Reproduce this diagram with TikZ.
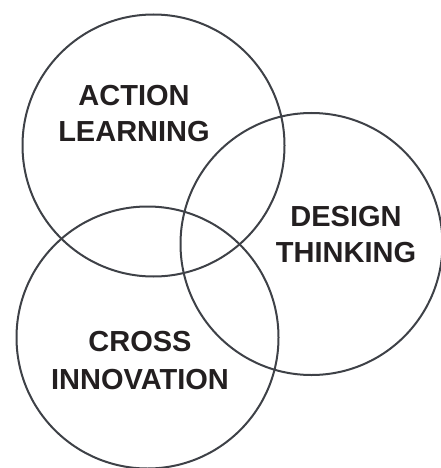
\documentclass[tikz,border=0pt]{standalone}
\usepackage{fontspec}
\setmainfont{Liberation Sans}
\definecolor{ringcol}{HTML}{3E4147}
\definecolor{txtcol}{HTML}{231F20}
\begin{document}
\begin{tikzpicture}[x=1pt,y=-1pt,
  ring/.style={circle,draw=ringcol,line width=2pt,inner sep=0pt,minimum size=262pt},
  lbl/.style={anchor=base,inner sep=0pt,text=txtcol,font=\fontsize{29}{35}\selectfont\bfseries}]
\useasboundingbox (0,0) rectangle (441,468);
\node[ring] (al) at (153.5,145.5) {};
\node[ring] (dt) at (311.5,244) {};
\node[ring] (ci) at (147.5,337.5) {};
\node[lbl] (al1) at (134,105.5) {ACTION};
\node[lbl] (al2) at (134,141) {LEARNING};
\node[lbl] (dt1) at (346,226.5) {DESIGN};
\node[lbl] (dt2) at (346,262) {THINKING};
\node[lbl] (ci1) at (140,351.5) {CROSS};
\node[lbl] (ci2) at (140,389) {INNOVATION};
\end{tikzpicture}
\end{document}
